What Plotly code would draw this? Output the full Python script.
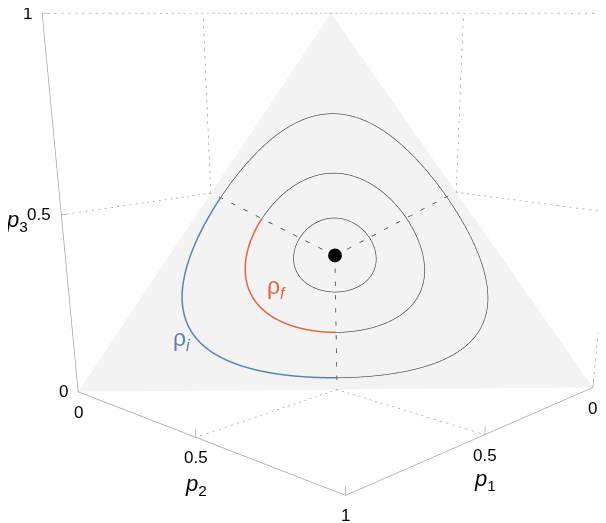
import numpy as np
import plotly.graph_objects as go

# ---------------- data ----------------
entropy_levels = [0.80, 1.0, 1.078]            # Shannon-entropy contour levels, outer -> inner
level_colors = ['#5E81B5', '#E8643C', None]    # coloured arc (where p1 is largest) per level
level_labels = ['ρ<sub><i>i</i></sub>', 'ρ<sub><i>f</i></sub>', None]
label_p1 = [0.74, 0.49]
label_p2 = [0.135, 0.255]
label_p3 = [0.125, 0.255]
vert_p1 = [1, 0, 0]                             # simplex corners
vert_p2 = [0, 1, 0]
vert_p3 = [0, 0, 1]
tick_vals = [0, 0.5, 1]
tick_text = ['0', '0.5', '1']
grid_vals = [0.5, 1]

# ---------------- helpers ----------------
V = np.array([vert_p1, vert_p2, vert_p3], float).T   # rows = vertices
cen = V.mean(axis=0)
nrm = np.ones(3) / np.sqrt(3)
u = (V[0] - cen) / np.linalg.norm(V[0] - cen)
v = np.cross(nrm, u)


def entropy(P):
    safe = np.where(P > 0, P, 1.0)
    return -(np.where(P > 0, P * np.log(safe), 0.0)).sum(axis=-1)


def contour(level, phi):
    d = np.cos(phi)[:, None] * u + np.sin(phi)[:, None] * v
    with np.errstate(divide='ignore', invalid='ignore'):
        rmax = np.min(np.where(d < 0, -cen / np.where(d < 0, d, -1), np.inf), axis=1)
    lo = np.zeros_like(phi)
    hi = rmax.copy()
    for _ in range(60):
        mid = (lo + hi) / 2
        inside = entropy(cen + mid[:, None] * d) > level
        lo = np.where(inside, mid, lo)
        hi = np.where(inside, hi, mid)
    r = (lo + hi) / 2
    return cen + r[:, None] * d


def lift(P, eps):
    return P + eps * nrm


def seg_trace(segs, color, width, dash='solid'):
    xs, ys, zs = [], [], []
    for a, b in segs:
        xs += [a[0], b[0], None]
        ys += [a[1], b[1], None]
        zs += [a[2], b[2], None]
    return go.Scatter3d(x=xs, y=ys, z=zs, mode='lines', hoverinfo='skip',
                        line=dict(color=color, width=width, dash=dash), showlegend=False)


def seg_traces(segs, color, width, dash):
    # one trace per segment so every segment gets the same dash rhythm
    return [seg_trace([s], color, width, dash) for s in segs]


traces = []

# simplex triangle
traces.append(go.Mesh3d(x=V[:, 0], y=V[:, 1], z=V[:, 2], i=[0], j=[1], k=[2],
                        color='#f3f3f3', flatshading=True, hoverinfo='skip',
                        lighting=dict(ambient=1, diffuse=0, specular=0, roughness=1, fresnel=0)))

# dotted face grids on the back walls and floor
grid = []
for g in grid_vals:
    grid += [((0, g, 0), (0, g, 1)), ((0, 0, g), (0, 1, g)),      # wall p1 = 0
             ((g, 0, 0), (g, 0, 1)), ((0, 0, g), (1, 0, g)),      # wall p2 = 0
             ((g, 0, 0), (g, 1, 0)), ((0, g, 0), (1, g, 0))]      # floor p3 = 0
traces += seg_traces(grid, '#8c8c8c', 1.2, 'dash')

# axes with tick marks
tl = 0.022
axes = [((1, 0, 0), (1, 0, 1)), ((1, 0, 0), (1, 1, 0)), ((0, 1, 0), (1, 1, 0))]
for t in tick_vals:
    axes += [((1, 0, t), (1 - tl, 0, t)), ((1, t, 0), (1, t, tl)), ((t, 1, 0), (t, 1, tl))]
traces.append(seg_trace(axes, '#9a9a9a', 1.3))

# dashed lines from the centre to the edge midpoints
mids = [(V[a] + V[b]) / 2 for a, b in [(0, 1), (1, 2), (0, 2)]]
traces += seg_traces([(lift(cen, 0.004), lift(m, 0.004)) for m in mids], '#444444', 1.6, 'longdash')

# contours
phi_all = np.linspace(np.pi / 3, 2 * np.pi - np.pi / 3, 500)
phi_hl = np.linspace(-np.pi / 3, np.pi / 3, 260)
for lev, col in zip(entropy_levels, level_colors):
    if col is None:
        P = lift(contour(lev, np.linspace(0, 2 * np.pi, 720)), 0.005)
        traces.append(go.Scatter3d(x=P[:, 0], y=P[:, 1], z=P[:, 2], mode='lines', hoverinfo='skip',
                                   line=dict(color='#333333', width=1.2), showlegend=False))
    else:
        P = lift(contour(lev, phi_all), 0.005)
        traces.append(go.Scatter3d(x=P[:, 0], y=P[:, 1], z=P[:, 2], mode='lines', hoverinfo='skip',
                                   line=dict(color='#333333', width=1.2), showlegend=False))
        Q = lift(contour(lev, phi_hl), 0.006)
        traces.append(go.Scatter3d(x=Q[:, 0], y=Q[:, 1], z=Q[:, 2], mode='lines', hoverinfo='skip',
                                   line=dict(color=col, width=3), showlegend=False))

# centre point
c2 = lift(cen, 0.008)
traces.append(go.Scatter3d(x=[c2[0]], y=[c2[1]], z=[c2[2]], mode='markers', hoverinfo='skip',
                           marker=dict(size=8, color='black'), showlegend=False))

fig = go.Figure(traces)

FONT = 'Liberation Sans, Arial, sans-serif'
ann = []
for t, s in zip(tick_vals, tick_text):
    ann.append(dict(x=1, y=0, z=t, text=s, xanchor='right', yanchor='middle', xshift=-8))
for t, s in zip(tick_vals, tick_text):
    ann.append(dict(x=1, y=t, z=0, text=s, xanchor='center', yanchor='top', yshift=-9))
for t, s in zip(tick_vals[:-1], tick_text[:-1]):
    ann.append(dict(x=t, y=1, z=0, text=s, xanchor='center', yanchor='top', yshift=-9))
for a in ann:
    a.update(showarrow=False, font=dict(family=FONT, size=17, color='black'))

titles = [dict(x=1, y=0, z=0.5, text='<i>p</i><sub>3</sub>', xanchor='right', yanchor='middle',
               xshift=-31, yshift=-6),
          dict(x=1, y=0.5, z=0, text='<i>p</i><sub>2</sub>', xanchor='center', yanchor='top', yshift=-32),
          dict(x=0.5, y=1, z=0, text='<i>p</i><sub>1</sub>', xanchor='center', yanchor='top', yshift=-29)]
for a in titles:
    a.update(showarrow=False, font=dict(family=FONT, size=22, color='black'))
ann += titles

for k, (lab, col) in enumerate(zip(level_labels, level_colors)):
    if lab is None:
        continue
    ann.append(dict(x=label_p1[k], y=label_p2[k], z=label_p3[k], text=lab, showarrow=False,
                    font=dict(family=FONT, size=23, color=col)))

ax = dict(range=[0, 1], autorange=False, visible=False, showgrid=False, zeroline=False,
          showbackground=False, showspikes=False)
fig.update_layout(
    width=658, height=900, margin=dict(l=0, r=0, t=0, b=0),
    paper_bgcolor='white', showlegend=False, hovermode=False,
    scene=dict(
        domain=dict(x=[0, 1], y=[0, 1]),
        xaxis=ax, yaxis=ax, zaxis=ax,
        aspectmode='manual', aspectratio=dict(x=1.045, y=1.045, z=1),
        camera=dict(eye=dict(x=2.147, y=2.038, z=0.5), center=dict(x=0, y=0, z=-0.712),
                    up=dict(x=0, y=0, z=1), projection=dict(type='perspective')),
        annotations=ann,
    ),
)

fig.write_html('out.html', config={'displayModeBar': False})
